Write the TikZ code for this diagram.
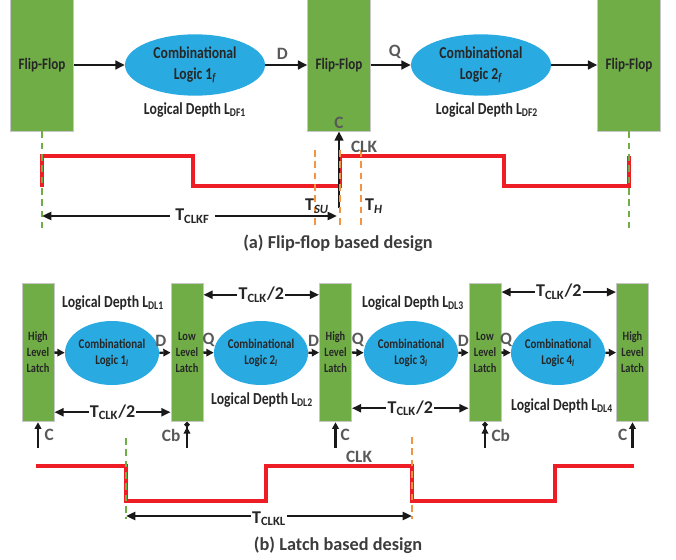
\documentclass[tikz,border=0pt]{standalone}
\usepackage{fontspec}
\setmainfont{Carlito}[FakeStretch=0.82]
\newfontfamily\widefont{Carlito}
\usepackage{xcolor}
\usetikzlibrary{arrows.meta,positioning,shapes.geometric}
\definecolor{ffgreen}{HTML}{70AD47}
\definecolor{logicblue}{HTML}{29ABE2}
\definecolor{clkred}{HTML}{EE1D25}
\definecolor{edgeorange}{HTML}{F29440}
\definecolor{taggray}{HTML}{595959}
\definecolor{ink}{HTML}{262626}

\begin{document}
\begin{tikzpicture}[x=0.75pt,y=-0.75pt,
    ff/.style={rectangle,fill=ffgreen,draw=black!22,line width=0.6pt,minimum width=47pt,minimum height=99pt,inner sep=0pt,font=\bfseries\fontsize{12}{14}\selectfont,text=ink},
    latch/.style={rectangle,fill=ffgreen,draw=black!22,line width=0.6pt,minimum width=24pt,minimum height=104pt,inner sep=0pt,align=center,font=\bfseries\fontsize{9.5}{12}\selectfont,text=ink},
    comb/.style={ellipse,fill=logicblue,minimum width=105pt,minimum height=46pt,inner sep=0pt,align=center,font=\bfseries\fontsize{12.5}{15.5}\selectfont,text=ink},
    combl/.style={comb,minimum width=64.5pt,minimum height=48pt,font=\bfseries\fontsize{10}{11.5}\selectfont},
    depth/.style={font=\bfseries\fontsize{12.6}{14}\selectfont,text=ink},
    tag/.style={font=\widefont\bfseries\fontsize{13}{15}\selectfont,text=taggray,inner sep=3.5pt},
    dimlbl/.style={font=\widefont\bfseries\fontsize{13.5}{15}\selectfont,text=ink,inner sep=1pt},
    caption/.style={font=\widefont\bfseries\fontsize{13.7}{16}\selectfont,text=ink!90},
    flow/.style={-{Triangle[length=7pt,width=6.5pt]},line width=1.9pt,black!90},
    flowl/.style={-{Triangle[length=5.5pt,width=5.5pt]},line width=1.7pt,black!90},
    dim/.style={{Triangle[length=7pt,width=6pt]}-{Triangle[length=7pt,width=6pt]},line width=1.8pt,black!90},
    clkin/.style={-{Triangle[length=5pt,width=5pt]},line width=1.8pt,black!90},
    clkinb/.style={-{Triangle[length=5pt,width=5pt] Circle[length=3.6pt]},line width=1.8pt,black!90},
    wave/.style={clkred,line width=2.6pt},
    gdash/.style={ffgreen,line width=1.2pt,dash pattern=on 5pt off 3.5pt},
    odash/.style={edgeorange,line width=1.6pt,dash pattern=on 5pt off 3.5pt}
  ]
    \useasboundingbox (0,0) rectangle (676,560);

    % (a) flip-flops
    \node[ff] (ff1) at (42,65) {Flip-Flop};
    \node[ff] (ff2) at (339,65) {Flip-Flop};
    \node[ff] (ff3) at (629,65) {Flip-Flop};
    \node[comb] (cl1) at (195,65) {Combinational\\Logic 1\textsubscript{\itshape f}};
    \node[comb] (cl2) at (481,65) {Combinational\\Logic 2\textsubscript{\itshape f}};
    \node[depth] (ldf1) at (195,110) {Logical Depth L\textsubscript{DF1}};
    \node[depth] (ldf2) at (487,110) {Logical Depth L\textsubscript{DF2}};
    \node[tag,anchor=south,inner sep=2pt] (cff) at (ff2.south) {C};

    \draw[flow] (ff1) -- (cl1);
    \draw[flow] (cl1) -- node[tag,above,xshift=-3pt] {D} (ff2);
    \draw[flow] (ff2) -- node[tag,above,xshift=3pt] {Q} (cl2);
    \draw[flow] (cl2) -- (ff3);

    \draw[wave] (42,187) -- (42,156) -- (193,156) -- (193,186) -- (340,186) -- (340,156)
      -- (504,156) -- (504,186) -- (629,186) -- (629,156);
    \coordinate (clkfoot) at (339,208);
    \draw[flow] (clkfoot) -- (ff2);
    \draw[gdash] (ff1.south) -- (ff1.south |- 0,228);
    \draw[gdash] (ff3.south) -- (ff3.south |- 0,228);
    \draw[odash] (315,150) -- (315,228);
    \draw[odash] (340,150) -- (340,228);
    \draw[odash] (361,150) -- (361,228);

    \coordinate (tf0) at (42,216);
    \coordinate (tf1) at (337,216);
    \draw[dim] (tf0) -- node[dimlbl,fill=white,pos=0.51,inner xsep=4pt] {T\textsubscript{CLKF}} (tf1);
    \node[tag] (clka) at (364,147) {CLK};
    \node[dimlbl] (tsu) at (317,206) {T\textsubscript{\itshape SU}};
    \node[dimlbl] (th) at (374,206) {T\textsubscript{\itshape H}};
    \node[caption] (capa) at (338,243) {(a) Flip-flop based design};

    % (b) latches
    \node[latch] (hl1) at (38,352.5) {High\\Level\\Latch};
    \node[latch] (ll1) at (187,352.5) {Low\\Level\\Latch};
    \node[latch] (hl2) at (335.5,352.5) {High\\Level\\Latch};
    \node[latch] (ll2) at (485,352.5) {Low\\Level\\Latch};
    \node[latch] (hl3) at (632.5,352.5) {High\\Level\\Latch};
    \node[combl] (lc1) at (112,353) {Combinational\\Logic 1\textsubscript{\itshape l}};
    \node[combl] (lc2) at (261,353) {Combinational\\Logic 2\textsubscript{\itshape l}};
    \node[combl] (lc3) at (411,353) {Combinational\\Logic 3\textsubscript{\itshape l}};
    \node[combl] (lc4) at (558,353) {Combinational\\Logic 4\textsubscript{\itshape l}};
    \node[depth] (ldl1) at (113,303) {Logical Depth L\textsubscript{DL1}};
    \node[depth] (ldl2) at (262,400) {Logical Depth L\textsubscript{DL2}};
    \node[depth] (ldl3) at (413,303) {Logical Depth L\textsubscript{DL3}};
    \node[depth] (ldl4) at (562,406) {Logical Depth L\textsubscript{DL4}};

    \draw[flowl] (hl1) -- (lc1);
    \draw[flowl] (lc1) -- node[tag,above,xshift=-3pt] {D} (ll1);
    \draw[flowl] (ll1) -- node[tag,above] {Q} (lc2);
    \draw[flowl] (lc2) -- node[tag,above] {D} (hl2);
    \draw[flowl] (hl2) -- node[tag,above] {Q} (lc3);
    \draw[flowl] (lc3) -- node[tag,above] {D} (ll2);
    \draw[flowl] (ll2) -- node[tag,above] {Q} (lc4);
    \draw[flowl] (lc4) -- (hl3);

    \draw[dim] ([yshift=7.5pt]hl1.south east) -- node[dimlbl,fill=white] {T\textsubscript{CLK}/2} ([yshift=7.5pt]ll1.south west);
    \draw[dim] ([yshift=-9pt]ll1.north east) -- node[dimlbl,fill=white] {T\textsubscript{CLK}/2} ([yshift=-9pt]hl2.north west);
    \draw[dim] ([yshift=10.5pt]hl2.south east) -- node[dimlbl,fill=white] {T\textsubscript{CLK}/2} ([yshift=10.5pt]ll2.south west);
    \draw[dim] ([yshift=-7pt]ll2.north east) -- node[dimlbl,fill=white] {T\textsubscript{CLK}/2} ([yshift=-7pt]hl3.north west);

    \draw[clkin] ([yshift=-19.5pt]hl1.south) -- node[tag,right,inner sep=4pt] {C} (hl1.south);
    \draw[clkinb] ([yshift=-19.5pt]ll1.south) -- node[tag,left,inner sep=4pt] {Cb} (ll1.south);
    \draw[clkin] ([yshift=-19.5pt]hl2.south) -- node[tag,right,inner sep=3pt] {C} (hl2.south);
    \draw[clkinb] ([yshift=-19.5pt]ll2.south) -- node[tag,right,inner sep=4pt] {Cb} (ll2.south);
    \draw[clkin] ([yshift=-19.5pt]hl3.south) -- node[tag,left,inner sep=3pt] {C} (hl3.south);

    \draw[wave] (36,466) -- (126,466) -- (126,501) -- (266,501) -- (266,466) -- (412,466)
      -- (412,501) -- (555,501) -- (555,466) -- (634,466);
    \draw[gdash] (126,438) -- (126,519);
    \draw[odash] (412,437) -- (412,519);
    \coordinate (tl0) at (126,516);
    \coordinate (tl1) at (412,516);
    \draw[dim] (tl0) -- node[dimlbl,fill=white,yshift=-2pt] {T\textsubscript{CLKL}} (tl1);
    \node[tag] (clkb) at (359,457) {CLK};
    \node[caption] (capb) at (338,545) {(b) Latch based design};
  \end{tikzpicture}
\end{document}
